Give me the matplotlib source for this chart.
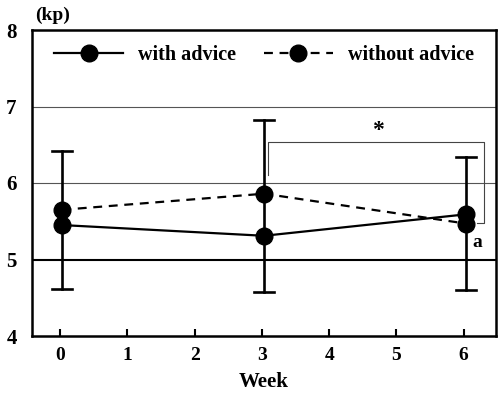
import matplotlib
matplotlib.use("Agg")
import matplotlib.pyplot as plt

weeks = [0, 3, 6]
with_advice = [5.45, 5.31, 5.59]
without_advice = [5.65, 5.86, 5.47]
err_top = [6.42, 6.82, 6.34]
err_bottom = [4.61, 4.57, 4.60]
xticks = [0, 1, 2, 3, 4, 5, 6]
yticks = [4, 5, 6, 7, 8]

plt.rcParams['font.family'] = ['Liberation Serif']
plt.rcParams['font.weight'] = 'bold'

fig = plt.figure(figsize=(4.98, 3.93), dpi=100)
ax = fig.add_axes([32/498, 1-336/393, (496-32)/498, (336-30)/393])

ax.set_xlim(-0.42, 6.48)
ax.set_ylim(4, 8)

# gridlines
ax.axhline(5, color='black', lw=1.5, zorder=1)
for g in [6, 7]:
    ax.axhline(g, color='#555555', lw=0.8, zorder=1)

# error bars (single bar per week spanning both groups)
xe = [w + 0.03 for w in weeks]
for x, t, b in zip(xe, err_top, err_bottom):
    ax.plot([x, x], [b, t], color='black', lw=1.9, zorder=2)
    ax.plot([x - 0.15, x + 0.15], [t, t], color='black', lw=1.9, zorder=2)
    ax.plot([x - 0.15, x + 0.15], [b, b], color='black', lw=1.9, zorder=2)

ax.plot(xe, with_advice, '-', color='black', lw=1.6, marker='o', ms=12,
        label='with advice', zorder=3)
ax.plot(xe, without_advice, '--', color='black', lw=1.6, marker='o', ms=12,
        dashes=(4, 3), label='without advice', zorder=3)

# significance bracket
ax.plot([3.09, 3.09, 6.3, 6.3, 6.2], [6.1, 6.54, 6.54, 5.48, 5.48],
        color='#444444', lw=0.8, zorder=2)
ax.text(4.72, 6.69, '*', ha='center', va='center', fontsize=17, fontweight='bold')
ax.text(6.2, 5.22, 'a', ha='center', va='center', fontsize=14, fontweight='bold')

ax.set_xticks(xticks)
ax.set_yticks(yticks)
ax.tick_params(axis='x', direction='in', length=5, width=1.5, labelsize=14, pad=8)
ax.tick_params(axis='y', length=0, labelsize=15, pad=11)
for s in ax.spines.values():
    s.set_linewidth(1.8)

ax.set_xlabel('Week', fontsize=15, fontweight='bold', labelpad=6)
fig.text(35/498, 1-15/393, '(kp)', fontsize=14, fontweight='bold', va='center', ha='left')

leg = ax.legend(loc='upper center', ncol=2, frameon=False,
                handlelength=3.4, handletextpad=0.75, columnspacing=1.4,
                bbox_to_anchor=(0.5, 1.01),
                prop={'weight': 'bold', 'size': 14.5})

fig.savefig('out.png', dpi=100)
